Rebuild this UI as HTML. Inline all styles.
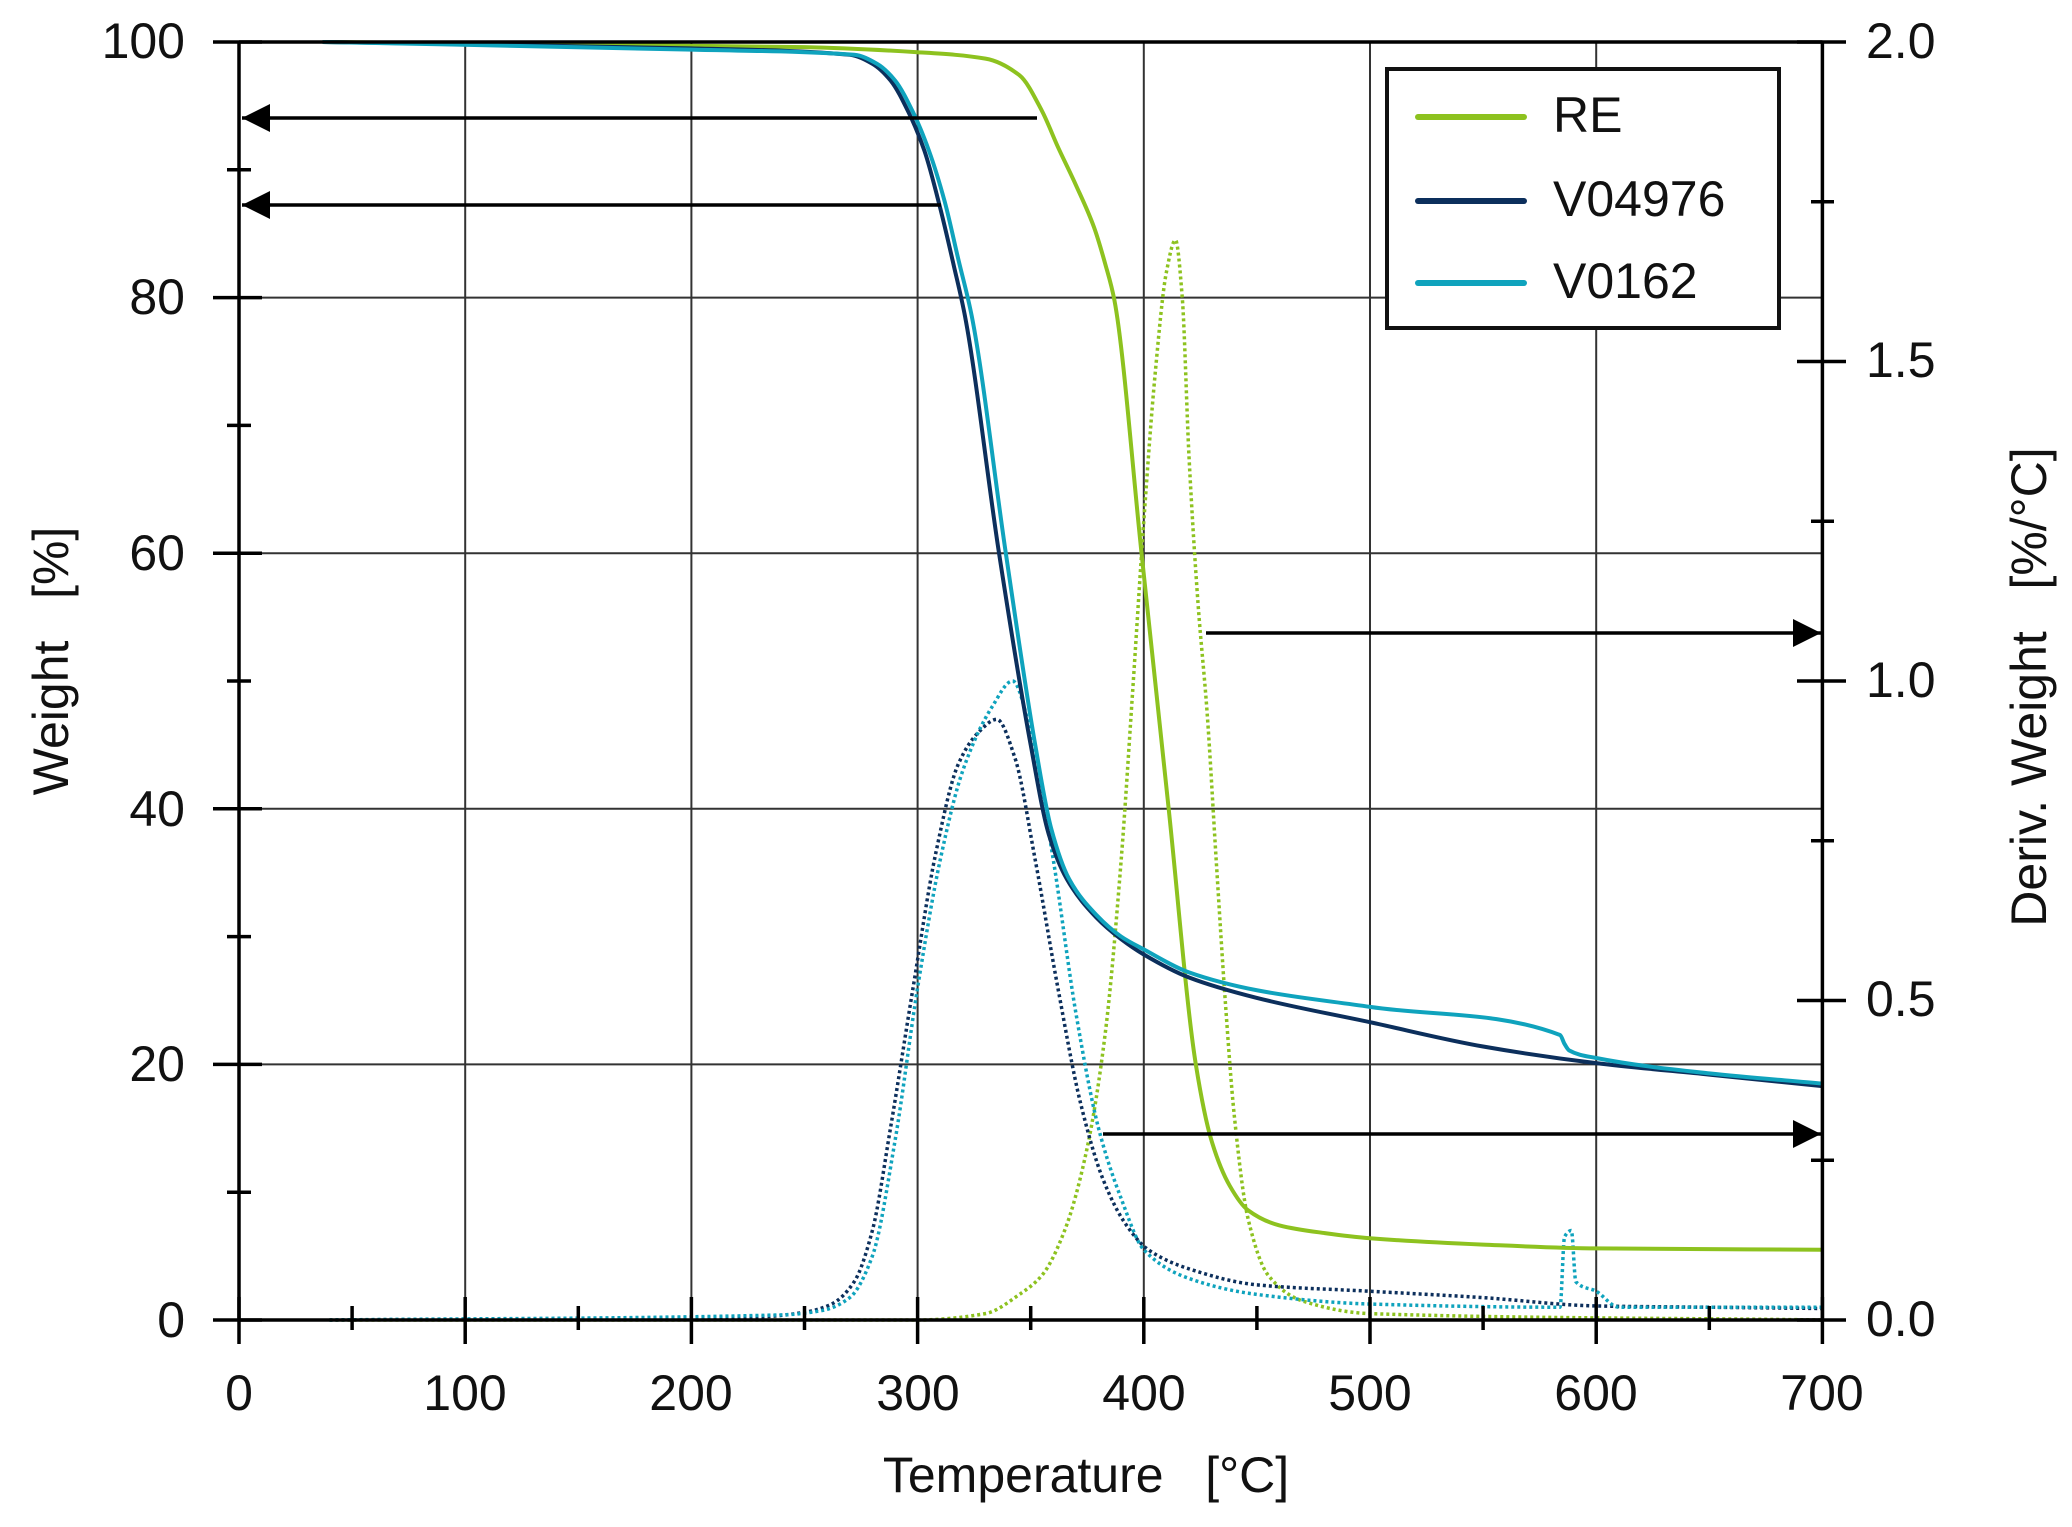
<!DOCTYPE html>
<html><head><meta charset="utf-8"><style>
html,body{margin:0;padding:0;background:#fff;}
svg{display:block;font-family:"Liberation Sans",sans-serif;}
</style></head><body>
<svg id="s" width="2072" height="1527" viewBox="0 0 2072 1527" xmlns="http://www.w3.org/2000/svg">
<g id="grid" stroke="#333" stroke-width="2"></g>
<g id="curves"></g>
<g id="axes" stroke="#000" stroke-width="3.5"></g>
<g font-size="50" fill="#111">
<text x="185" y="58" text-anchor="end">100</text>
<text x="185" y="314" text-anchor="end">80</text>
<text x="185" y="570" text-anchor="end">60</text>
<text x="185" y="826" text-anchor="end">40</text>
<text x="185" y="1081" text-anchor="end">20</text>
<text x="185" y="1337" text-anchor="end">0</text>
<text x="1866" y="58">2.0</text>
<text x="1866" y="377">1.5</text>
<text x="1866" y="697">1.0</text>
<text x="1866" y="1016">0.5</text>
<text x="1866" y="1336">0.0</text>
<text x="239" y="1410" text-anchor="middle">0</text>
<text x="465" y="1410" text-anchor="middle">100</text>
<text x="691" y="1410" text-anchor="middle">200</text>
<text x="918" y="1410" text-anchor="middle">300</text>
<text x="1144" y="1410" text-anchor="middle">400</text>
<text x="1370" y="1410" text-anchor="middle">500</text>
<text x="1596" y="1410" text-anchor="middle">600</text>
<text x="1822" y="1410" text-anchor="middle">700</text>
<text x="1086" y="1492" text-anchor="middle" xml:space="preserve">Temperature   [°C]</text>
<text transform="translate(68,661) rotate(-90)" text-anchor="middle" xml:space="preserve">Weight   [%]</text>
<text transform="translate(2046,687) rotate(-90)" text-anchor="middle" xml:space="preserve">Deriv. Weight   [%/°C]</text>
</g>
<g>
<rect x="1387" y="69" width="392" height="259" fill="#fff" stroke="#111" stroke-width="4"/>
<line x1="1418" y1="117" x2="1524" y2="117" stroke="#8dc21f" stroke-width="6" stroke-linecap="round"/>
<line x1="1418" y1="201" x2="1524" y2="201" stroke="#0c2f5c" stroke-width="6" stroke-linecap="round"/>
<line x1="1418" y1="283" x2="1524" y2="283" stroke="#0fa3bd" stroke-width="6" stroke-linecap="round"/>
<g font-size="50" fill="#111">
<text x="1553" y="132">RE</text>
<text x="1553" y="216">V04976</text>
<text x="1553" y="298">V0162</text>
</g>
</g>
<g id="arrows" stroke="#000" stroke-width="3.5" fill="#000"></g>
</svg>
<script>
var NS="http://www.w3.org/2000/svg";
function X(t){return 239+t*2.262;}
function Y(w){return 1320-w*12.78;}
function YD(d){return 1320-d*639;}
function el(p,tag,a){var e=document.createElementNS(NS,tag);for(var k in a)e.setAttribute(k,a[k]);document.getElementById(p).appendChild(e);return e;}
for(var t=100;t<=600;t+=100)el("grid","line",{x1:X(t),y1:Y(100),x2:X(t),y2:Y(0)});
for(var w=20;w<=80;w+=20)el("grid","line",{x1:X(0),y1:Y(w),x2:X(700),y2:Y(w)});
el("axes","line",{x1:X(0),y1:Y(100),x2:X(700),y2:Y(100)});
el("axes","line",{x1:X(0),y1:Y(100),x2:X(0),y2:Y(0)});
el("axes","line",{x1:X(700),y1:Y(100),x2:X(700),y2:Y(0)});
el("axes","line",{x1:X(0),y1:Y(0),x2:X(700),y2:Y(0)});
for(var w=0;w<=100;w+=10){var mj=w%20==0;el("axes","line",{x1:mj?213:227,y1:Y(w),x2:mj?262:251,y2:Y(w)});}
for(var t=0;t<=700;t+=50){var mj=t%100==0;el("axes","line",{x1:X(t),y1:mj?1297:1306,x2:X(t),y2:mj?1344:1330});}
for(var d=0;d<=2.0001;d+=0.25){var mj=Math.abs(d*2-Math.round(d*2))<1e-6;el("axes","line",{x1:mj?1797:1811,y1:YD(d),x2:mj?1846:1834,y2:YD(d)});}
function arr(x1,x2,y){el("arrows","line",{x1:x1,y1:y,x2:x2,y2:y});var dir=x2<x1?1:-1;
el("arrows","polygon",{points:x2+","+y+" "+(x2+dir*28)+","+(y-14)+" "+(x2+dir*28)+","+(y+14),stroke:"none"});}
arr(1037,242,118);arr(941,242,205);arr(1206,1821,633);arr(1103,1821,1134);
// monotone cubic (Fritsch-Carlson)
function path(pts,fy){var xs=pts.map(function(q){return X(q[0]);}),ys=pts.map(function(q){return fy(q[1]);});
var n=xs.length,dl=[],m=[];
for(var i=0;i<n-1;i++)dl.push((ys[i+1]-ys[i])/(xs[i+1]-xs[i]));
m[0]=dl[0];m[n-1]=dl[n-2];
for(var i=1;i<n-1;i++){if(dl[i-1]*dl[i]<=0)m[i]=0;else{var w1=2*(xs[i+1]-xs[i])+(xs[i]-xs[i-1]),w2=(xs[i+1]-xs[i])+2*(xs[i]-xs[i-1]);m[i]=(w1+w2)/(w1/dl[i-1]+w2/dl[i]);}}
var s="M"+xs[0]+","+ys[0];
for(var i=0;i<n-1;i++){var h=(xs[i+1]-xs[i])/3;
s+="C"+(xs[i]+h)+","+(ys[i]+m[i]*h)+" "+(xs[i+1]-h)+","+(ys[i+1]-m[i+1]*h)+" "+xs[i+1]+","+ys[i+1];}
return s;}
var G="#8dc21f",N="#0c2f5c",C="#0fa3bd";
var reD=[[40,0],[300,0],[330,0.01],[345,0.04],[355,0.07],[365,0.14],[375,0.27],[383,0.45],[390,0.72],[395,0.98],[400,1.25],[405,1.48],[410,1.64],[414,1.69],[417,1.6],[420,1.35],[424,1.12],[428,0.95],[432,0.72],[436,0.5],[440,0.32],[446,0.16],[455,0.07],[470,0.03],[500,0.01],[700,0]];
var nD=[[40,0],[230,0.005],[250,0.012],[262,0.025],[272,0.06],[280,0.14],[288,0.3],[298,0.52],[308,0.73],[318,0.87],[327,0.92],[335,0.94],[343,0.88],[352,0.72],[362,0.52],[372,0.34],[382,0.22],[392,0.15],[402,0.11],[420,0.08],[450,0.055],[500,0.045],[550,0.035],[600,0.022],[650,0.02],[700,0.018]];
var cD=[[40,0],[240,0.008],[258,0.015],[270,0.035],[280,0.1],[290,0.28],[300,0.52],[310,0.72],[320,0.86],[333,0.96],[342,1.0],[350,0.92],[360,0.72],[370,0.48],[380,0.3],[390,0.19],[400,0.11],[420,0.065],[450,0.04],[500,0.025],[584,0.02],[586,0.13],[589,0.14],[591,0.06],[600,0.045],[610,0.02],[700,0.02]];
var reW=[[37,100],[250,99.6],[300,99.2],[330,98.7],[345,97.4],[355,94.6],[362,91.8],[370,88.8],[378,85.5],[383,82.6],[387,79.8],[399,60],[411,40],[423,20],[430,14],[438,10.5],[446,8.6],[460,7.4],[480,6.8],[500,6.4],[550,5.9],[600,5.6],[700,5.5]];
var nW=[[37,100],[200,99.5],[270,99],[280,98.3],[288,97],[296,94.5],[303,91.5],[310,87],[316,82.5],[321,78.5],[336,60],[350,45],[358,38],[366,34.5],[379,31.5],[390,29.8],[400,28.6],[420,26.8],[450,25.2],[500,23.3],[550,21.4],[600,20.1],[650,19.2],[700,18.3]];
var cW=[[37,100],[200,99.4],[272,99],[282,98.3],[290,97],[298,94.5],[305,91.5],[312,87.5],[318,83],[324,78.5],[339,60],[352,45],[359,38.5],[367,34.5],[379,31.7],[390,30],[400,29],[420,27.2],[450,25.8],[500,24.5],[584,22.3],[586,21.6],[588,21.1],[600,20.5],[650,19.3],[700,18.5]];
function draw(pts,fy,col,dot){el("curves","path",{d:path(pts,fy),fill:"none",stroke:col,"stroke-width":dot?3.5:4,"stroke-dasharray":dot?"3 3":"none"});}
draw(reD,YD,G,1);draw(nD,YD,N,1);draw(cD,YD,C,1);
draw(reW,Y,G,0);draw(nW,Y,N,0);draw(cW,Y,C,0);
</script>
</body></html>
